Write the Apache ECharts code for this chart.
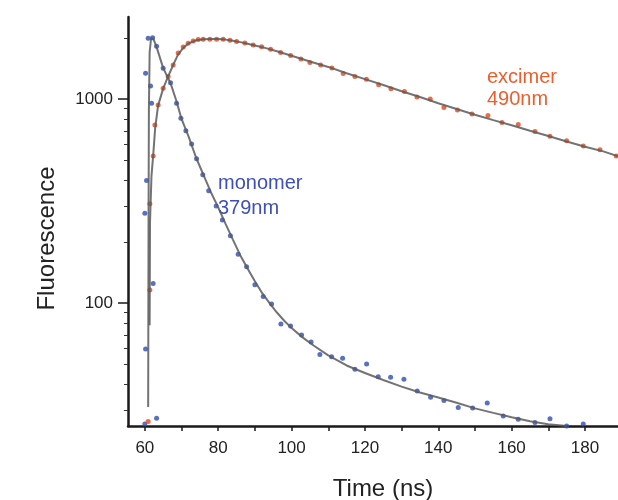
<!DOCTYPE html>
<html>
<head>
<meta charset="utf-8">
<script src="https://cdn.jsdelivr.net/npm/echarts@6/dist/echarts.min.js"></script>
<style>
html,body{margin:0;padding:0;background:#fff;}
#chart{width:618px;height:500px;}
</style>
</head>
<body>
<div id="chart"></div>
<script>
// ---- data ----
var monoX = [60.0, 60.0, 60.19, 60.19, 60.46, 60.9, 61.55, 61.83, 62.1, 62.26, 63.19, 63.19, 64.99, 67.0, 68.64, 69.82, 71.18, 72.74, 74.1, 75.79, 77.4, 79.44, 81.13, 83.32, 85.44, 87.73, 90.0, 92.26, 94.55, 97.09, 99.73, 102.73, 105.32, 107.72, 110.91, 113.91, 117.27, 120.46, 123.62, 127.0, 130.63, 134.26, 137.91, 141.54, 145.44, 149.37, 153.35, 157.71, 161.8, 166.36, 170.45, 175.0, 179.53];
var monoY = [25.6, 276, 59.7, 1341, 399, 1991, 1162, 956, 2004, 125, 1820, 27.3, 1419, 1206, 956, 807, 700, 604, 511, 426, 356, 300, 256, 214, 174, 151, 123, 108, 99.2, 79.1, 77.4, 69.9, 64.6, 56.1, 54.7, 53.7, 47.4, 50.3, 43.6, 43.4, 42.4, 37.1, 34.6, 33.3, 30.8, 30.6, 32.4, 28.0, 27.0, 26.0, 27.1, 25.0, 25.6];

var exciX = [60.9, 61.36, 61.36, 62.26, 62.73, 63.63, 64.99, 66.35, 67.72, 69.08, 70.45, 71.81, 73.17, 74.54, 75.9, 77.73, 79.55, 81.35, 83.18, 85.0, 87.27, 89.54, 91.83, 94.28, 97.01, 99.74, 102.55, 105.0, 107.92, 111.0, 114.08, 117.27, 120.41, 123.74, 127.09, 130.77, 134.18, 137.81, 141.54, 145.23, 149.18, 153.55, 157.36, 161.81, 166.36, 170.45, 175.0, 179.54, 184.09, 188.54];
var exciY = [26.3, 116, 307, 527, 748, 938, 1132, 1291, 1473, 1686, 1805, 1882, 1931, 1960, 1969, 1969, 1969, 1969, 1947, 1916, 1888, 1846, 1810, 1758, 1696, 1639, 1576, 1515, 1473, 1424, 1338, 1291, 1254, 1179, 1127, 1090, 1026, 1003, 912, 886, 847, 833, 770, 752, 695, 658, 625, 590, 566, 527];

var monoFitX = [60.9, 61.0, 61.1, 61.3, 61.7, 62.3, 63.2, 65, 67, 68.6, 70, 72, 74, 76, 78, 80, 82, 84, 86, 88, 90, 92, 94, 96, 98, 100, 103, 106, 110, 115, 120, 125, 130, 135, 140, 145, 150, 155, 160, 165, 170, 175];
var monoFitY = [31, 250, 900, 1700, 1990, 1980, 1800, 1420, 1200, 980, 800, 650, 515, 425, 350, 295, 245, 205, 172, 148, 128, 112, 100, 90, 82, 75.5, 68, 62, 55.5, 49.5, 45.5, 42, 39, 36.5, 34.5, 32.5, 30.5, 29, 27.6, 26.4, 25.5, 25];

var exciFitX = [61.3, 61.4, 61.8, 62.3, 62.8, 63.6, 65, 66.4, 67.7, 69, 70.5, 72, 74, 76, 78, 80, 82, 84, 86, 88, 90, 93, 96, 100, 105, 110, 115, 120, 125, 130, 135, 140, 145, 150, 155, 160, 165, 170, 175, 180, 185, 189];
var exciFitY = [78, 250, 420, 540, 720, 930, 1130, 1300, 1470, 1650, 1790, 1880, 1945, 1970, 1975, 1975, 1960, 1935, 1905, 1870, 1835, 1780, 1720, 1635, 1530, 1440, 1340, 1255, 1175, 1095, 1025, 955, 895, 840, 790, 745, 700, 660, 620, 585, 555, 525];

var xMajorTicks = [60, 80, 100, 120, 140, 160, 180];
var xMinorTicks = [60, 70, 80, 90, 100, 110, 120, 130, 140, 150, 160, 170, 180];
var yMajorTicks = [100, 1000];
var yMinorTicks = [30, 40, 50, 60, 70, 80, 90, 200, 300, 400, 500, 600, 700, 800, 900, 2000];

function zip(a, b) { return a.map(function (v, i) { return [v, b[i]]; }); }

var FONT = '"Liberation Sans", Arial, Helvetica, sans-serif';
var chart = echarts.init(document.getElementById('chart'), null, {renderer: 'canvas'});
var axisCommonY = {type: 'log', logBase: 10, min: 25, max: 2530, splitLine: {show: false}};
chart.setOption({
  animation: false,
  backgroundColor: '#fff',
  grid: {left: 128, right: 0, top: 17, bottom: 74, containLabel: false, outerBoundsMode: 'none'},
  xAxis: {
    type: 'value', min: 55.4, max: 189,
    name: 'Time (ns)', nameLocation: 'middle', nameGap: 51,
    nameTextStyle: {fontFamily: FONT, fontSize: 24, color: '#222', padding: [0, 0, 0, 20]},
    axisLine: {lineStyle: {color: '#1a1a1a', width: 2.5}},
    axisTick: {customValues: xMinorTicks, length: 5, lineStyle: {color: '#1a1a1a', width: 1.5}},
    axisLabel: {customValues: xMajorTicks, margin: 14, fontFamily: FONT, fontSize: 17, color: '#222'},
    splitLine: {show: false}
  },
  yAxis: [
    Object.assign({}, axisCommonY, {
      name: 'Fluorescence', nameLocation: 'middle', nameGap: 69, nameRotate: 90,
      nameTextStyle: {fontFamily: FONT, fontSize: 24, color: '#222', padding: [0, 34, 0, 0]},
      axisLine: {lineStyle: {color: '#1a1a1a', width: 2.5}},
      axisTick: {customValues: yMajorTicks, length: 10, lineStyle: {color: '#1a1a1a', width: 1.5}},
      axisLabel: {customValues: yMajorTicks, margin: 15, fontFamily: FONT, fontSize: 17, color: '#222',
        formatter: function (v) { return String(Math.round(v)); }}
    }),
    Object.assign({}, axisCommonY, {
      position: 'left',
      axisLine: {show: false},
      axisTick: {customValues: yMinorTicks, length: 4, lineStyle: {color: '#333', width: 1}},
      axisLabel: {show: false}
    })
  ],
  series: [
    {type: 'scatter', name: 'monomer', data: zip(monoX, monoY), symbol: 'circle', symbolSize: 5,
     itemStyle: {color: '#2f4db3'}, z: 2},
    {type: 'scatter', name: 'excimer', data: zip(exciX, exciY), symbol: 'circle', symbolSize: 5,
     itemStyle: {color: '#e4471c'}, z: 2},
    {type: 'line', name: 'monomer fit', data: zip(monoFitX, monoFitY), showSymbol: false, symbol: 'none',
     lineStyle: {color: '#5a5a5a', width: 2, opacity: 0.85}, z: 3},
    {type: 'line', name: 'excimer fit', data: zip(exciFitX, exciFitY), showSymbol: false, symbol: 'none',
     lineStyle: {color: '#5a5a5a', width: 2, opacity: 0.85}, z: 3}
  ],
  graphic: [
    {type: 'text', left: 218, top: 171, style: {text: 'monomer\n379nm', font: '20px ' + FONT, fill: '#3d4fb8', lineHeight: 25}},
    {type: 'text', left: 487, top: 66, style: {text: 'excimer\n490nm', font: '20px ' + FONT, fill: '#ec5f2c', lineHeight: 22}}
  ]
});
</script>
</body>
</html>
